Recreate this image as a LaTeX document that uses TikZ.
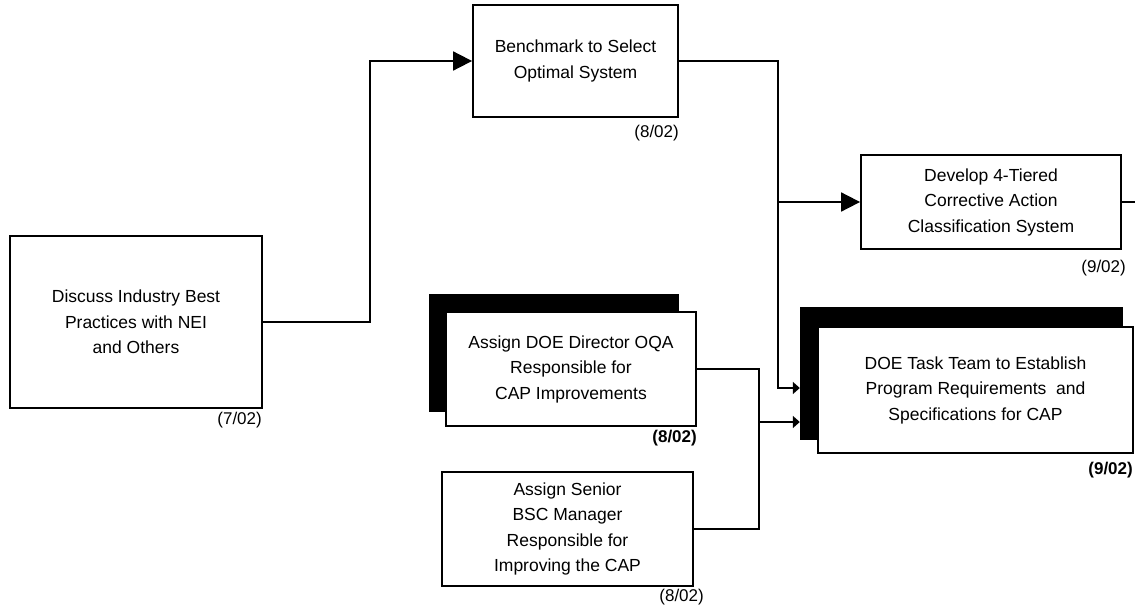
\documentclass[tikz,border=0pt]{standalone}
\usepackage{fontspec}
\setmainfont{Liberation Sans}
\usetikzlibrary{arrows.meta}
\begin{document}
\begin{tikzpicture}[x=1pt,y=-1pt,
  box/.style={draw, line width=1.8pt, fill=white, align=center, inner sep=0pt,
    font=\fontsize{17.5}{25.5}\selectfont},
  shadowbox/.style={fill=black, inner sep=0pt},
  lbl/.style={font=\fontsize{17}{20}\selectfont, inner sep=0pt},
  conn/.style={line width=1.8pt},
  bigarrow/.style={-{Triangle[length=19pt,width=19pt]}},
  tab/.style={-{Triangle[length=7pt,width=12pt]}}]
\useasboundingbox (0,0) rectangle (1135,605);

% boxes
\node[box, minimum width=252pt, minimum height=172pt] (discuss) at (136,322)
  {Discuss Industry Best\\Practices with NEI\\and Others};
\node[box, minimum width=205pt, minimum height=112pt] (bench) at (575.5,61)
  {Benchmark to Select\\Optimal System};
\node[box, minimum width=260pt, minimum height=94pt] (develop) at (991,202)
  {Develop 4-Tiered\\Corrective Action\\Classification System};
\node[shadowbox, minimum width=250pt, minimum height=118pt] (doeshadow) at (554,353) {};
\node[box, minimum width=250pt, minimum height=114pt] (doe) at (571,369)
  {Assign DOE Director OQA\\Responsible for\\CAP Improvements};
\node[box, minimum width=251pt, minimum height=114pt] (senior) at (567.5,529)
  {Assign Senior\\BSC Manager\\Responsible for\\Improving the CAP};
\node[shadowbox, minimum width=323pt, minimum height=133pt] (taskshadow) at (961.5,373.5) {};
\node[box, minimum width=315pt, minimum height=126pt] (task) at (975.5,390)
  {DOE Task Team to Establish\\Program Requirements~ and\\Specifications for CAP};

% dates
\node[lbl, anchor=north east] (d1) at (262,412) {(7/02)};
\node[lbl, anchor=north east] (d2) at (679,125) {(8/02)};
\node[lbl, anchor=north east] (d3) at (1126,260) {(9/02)};
\node[lbl, anchor=north east, font=\fontsize{17}{20}\selectfont\bfseries] (d4) at (697,430) {(8/02)};
\node[lbl, anchor=north east] (d5) at (704,589) {(8/02)};
\node[lbl, anchor=north east, font=\fontsize{17}{20}\selectfont\bfseries] (d6) at (1133,462) {(9/02)};

% connectors
\draw[conn, bigarrow] (discuss.east) -- (370,322) |- (bench.west);
\draw[conn, tab] (bench.east) -| (778,388) -- (taskshadow.west |- 778,388);
\draw[conn, bigarrow] (778,202) -- (develop.west);
\draw[conn] (doe.east) -- (759,369) -- (759,529) -- (senior.east);
\draw[conn, tab] (759,422) -- (taskshadow.west |- 759,422);
\coordinate (stub) at (1135,202);
\draw[conn] (develop.east) -- (stub);
\end{tikzpicture}
\end{document}
